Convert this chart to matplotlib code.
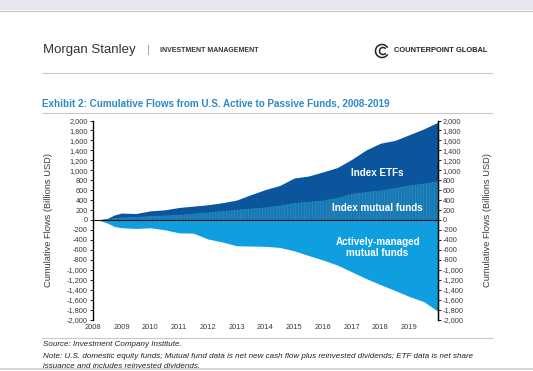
import matplotlib.pyplot as plt
from matplotlib.patches import Arc, Rectangle
from matplotlib.lines import Line2D

# data (billions USD, cumulative)
dates = [2008.0, 2008.25, 2008.5, 2008.75, 2009.0, 2009.5, 2010.0, 2010.5,
         2011.0, 2011.5, 2012.0, 2012.5, 2013.0, 2013.5, 2014.0, 2014.5,
         2015.0, 2015.5, 2016.0, 2016.5, 2017.0, 2017.5, 2018.0, 2018.5,
         2019.0, 2019.5, 2020.0]
total_passive = [0, 5, 30, 100, 140, 130, 184, 204,
                 252, 279, 306, 347, 401, 510, 612, 694,
                 844, 884, 966, 1054, 1218, 1408, 1544, 1599,
                 1714, 1830, 1966]
index_mf = [0, 0, 10, 35, 48, 60, 75, 88,
            102, 125, 150, 178, 204, 228, 252, 290,
            340, 365, 388, 442, 524, 560, 592, 640,
            694, 728, 776]
active_mf = [0, -10, -60, -130, -156, -170, -156, -197,
             -258, -265, -381, -442, -517, -524, -530, -551,
             -619, -714, -803, -905, -1041, -1177, -1299, -1415,
             -1537, -1639, -1837]

years = list(range(2008, 2020))
yticks = list(range(-2000, 2001, 200))

c_etf = '#0b559d'
c_imf = '#1677b3'
c_act = '#0f9fe0'
c_title = '#2b8ac6'
txt = '#3a3a3a'

plt.rcParams['font.family'] = ['Liberation Sans', 'DejaVu Sans']
plt.rcParams['hatch.linewidth'] = 0.35

W, H = 533, 371
fig = plt.figure(figsize=(W / 100, H / 100), dpi=100)

def px(x, y):
    return x / W, 1 - y / H

# header
fig.patches.append(Rectangle((0, 1 - 10 / H), 1, 10 / H, transform=fig.transFigure,
                             facecolor='#e6e6ec', edgecolor='none'))
fig.add_artist(Line2D([0, 1], [1 - 10.5 / H] * 2, color='#c4c4c8', lw=0.8))
fig.text(*px(43, 50), 'Morgan Stanley', fontsize=9.5, color='#333333', va='center', ha='left')
fig.text(*px(148, 50), '|', fontsize=8, color='#999999', va='center', ha='center')
fig.text(*px(160, 51), 'INVESTMENT MANAGEMENT', fontsize=5.05, fontweight='bold',
         color='#333333', va='center', ha='left')
fig.text(*px(394, 51), 'COUNTERPOINT GLOBAL', fontsize=5.4, fontweight='bold',
         color='#222222', va='center', ha='left')
lx, ly = px(382, 51)
fig.add_artist(Arc((lx, ly), 13 / W, 13 / H, theta1=40, theta2=320, lw=1.1,
                   color='#222222', transform=fig.transFigure))
fig.add_artist(Arc((lx + 1 / W, ly), 7 / W, 7 / H, theta1=50, theta2=310, lw=1.1,
                   color='#222222', transform=fig.transFigure))

for yy in (73, 113, 338):
    fig.add_artist(Line2D([42 / W, 492 / W], [1 - yy / H] * 2, color='#c8c8c8', lw=0.8))
fig.add_artist(Line2D([0, 1], [1 - 369 / H] * 2, color='#cfcfd4', lw=1.2))

fig.text(*px(42, 103), 'Exhibit 2: Cumulative Flows from U.S. Active to Passive Funds, 2008-2019',
         fontsize=7.1, fontweight='bold', color=c_title, va='center', ha='left')

# chart
ax = fig.add_axes([92.7 / W, 1 - 319.5 / H, (438 - 92.7) / W, (319.5 - 120.5) / H])
ax.fill_between(dates, index_mf, total_passive, color=c_etf, lw=0)
ax.fill_between(dates, 0, index_mf, facecolor=c_imf, edgecolor='#3b93c6', hatch='||||||', lw=0)
ax.fill_between(dates, active_mf, 0, color=c_act, lw=0)
ax.axhline(0, color='#111111', lw=0.8)

ax.set_xlim(2008, 2020)
ax.set_ylim(-2000, 2000)
ax.set_xticks(years)
ax.set_xticklabels([str(y) for y in years])
ax.set_yticks(yticks)
ax.set_yticklabels([f'{v:,}' for v in yticks])
ax.tick_params(axis='x', length=0, pad=3.5, labelsize=5.4, labelcolor=txt)
ax.tick_params(axis='y', length=2, width=0.6, pad=1.5, labelsize=5.3, labelcolor=txt)
for s in ('top', 'bottom'):
    ax.spines[s].set_visible(False)
ax.spines['left'].set_linewidth(1.0)
ax.set_ylabel('Cumulative Flows (Billions USD)', fontsize=6.7, color=txt)
ax.yaxis.set_label_coords(-0.115, 0.5)

ax2 = ax.twinx()
ax2.set_ylim(-2000, 2000)
ax2.set_yticks(yticks)
ax2.set_yticklabels([f'{v:,}' for v in yticks])
ax2.tick_params(axis='y', length=2, width=0.6, pad=1.5, labelsize=5.3, labelcolor=txt)
for s in ('top', 'bottom', 'left'):
    ax2.spines[s].set_visible(False)
ax2.spines['right'].set_linewidth(1.0)
ax2.set_ylabel('Cumulative Flows (Billions USD)', fontsize=6.7, color=txt)
ax2.yaxis.set_label_coords(1.130, 0.5)

lab = dict(color='white', fontweight='bold', fontsize=7.1, ha='center', va='center')
ax.text(2017.88, 939, 'Index ETFs', **lab)
ax.text(2017.9, 245, 'Index mutual funds', **lab)
ax.text(2017.9, -548, 'Actively-managed\nmutual funds', linespacing=1.1, **lab)

# footnotes
fig.text(*px(43, 345), 'Source: Investment Company Institute.', fontsize=5.8,
         style='italic', color='#222222', va='center')
fig.text(*px(43, 356), 'Note: U.S. domestic equity funds; Mutual fund data is net new cash flow plus '
         'reinvested dividends; ETF data is net share', fontsize=5.8, style='italic',
         color='#222222', va='center')
fig.text(*px(43, 366), 'issuance and includes reinvested dividends.', fontsize=5.8,
         style='italic', color='#222222', va='center')

fig.savefig('out.png', dpi=100)
